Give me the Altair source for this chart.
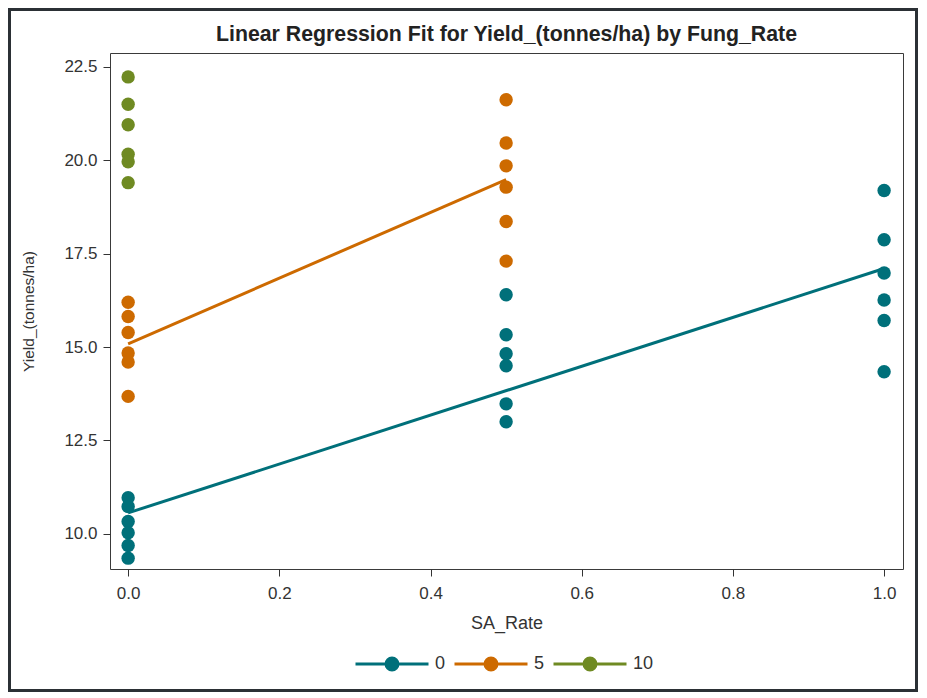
import altair as alt
import pandas as pd

# ---- data ----
fung_levels = ["0", "5", "10"]
colors = ["#00707a", "#cd6a00", "#6f8a22"]

fung0_sa00 = [10.97, 10.73, 10.33, 10.03, 9.69, 9.35]
fung0_sa05 = [16.40, 15.33, 14.82, 14.50, 13.48, 13.00]
fung0_sa10 = [19.19, 17.87, 16.98, 16.26, 15.71, 14.34]
fung5_sa00 = [16.20, 15.82, 15.39, 14.84, 14.60, 13.68]
fung5_sa05 = [21.62, 20.46, 19.85, 19.28, 18.36, 17.30]
fung10_sa00 = [22.23, 21.50, 20.95, 20.16, 19.96, 19.40]

x_ticks = [0.0, 0.2, 0.4, 0.6, 0.8, 1.0]
y_ticks = [10.0, 12.5, 15.0, 17.5, 20.0, 22.5]
title_text = "Linear Regression Fit for Yield_(tonnes/ha) by Fung_Rate"

groups = [
    ("0", 0.0, fung0_sa00),
    ("0", 0.5, fung0_sa05),
    ("0", 1.0, fung0_sa10),
    ("5", 0.0, fung5_sa00),
    ("5", 0.5, fung5_sa05),
    ("10", 0.0, fung10_sa00),
]
rows = []
for f, sa, vals in groups:
    for v in vals:
        rows.append({"Fung_Rate": f, "SA_Rate": sa, "Yield": v})
df = pd.DataFrame(rows)

W, H = 793, 516
FONT = "Liberation Sans"
TXT = "#333333"

color_scale = alt.Scale(domain=fung_levels, range=colors)
x_scale = alt.Scale(domain=[-0.024, 1.025], nice=False, zero=False)
y_scale = alt.Scale(domain=[9.06, 22.87], nice=False, zero=False)

r = 0.164
k = round(r * 0.5523, 4)
legend_path = (
    f"M-1,0H1M{r},0C{r},{k},{k},{r},0,{r}"
    f"C-{k},{r},-{r},{k},-{r},0"
    f"C-{r},-{k},-{k},-{r},0,-{r}"
    f"C{k},-{r},{r},-{k},{r},0Z"
)

x_enc = alt.X("SA_Rate:Q", scale=x_scale,
              axis=alt.Axis(values=x_ticks, format=".1f", title="SA_Rate"))
y_enc = alt.Y("Yield:Q", scale=y_scale,
              axis=alt.Axis(values=y_ticks, format=".1f", title="Yield_(tonnes/ha)"))

base = alt.Chart(df)

lines = (
    base.transform_filter(alt.FieldOneOfPredicate(field="Fung_Rate", oneOf=["0", "5"]))
    .transform_regression("SA_Rate", "Yield", groupby=["Fung_Rate"])
    .mark_line(strokeWidth=3)
    .encode(x=x_enc, y=y_enc,
            color=alt.Color("Fung_Rate:N", scale=color_scale))
)

leg = alt.Legend(
    title=None,
    orient="none",
    direction="horizontal",
    legendX=244,
    legendY=573,
    symbolType=legend_path,
)

points = base.mark_circle(size=180, opacity=1).encode(
    x=x_enc,
    y=y_enc,
    color=alt.Color("Fung_Rate:N", scale=color_scale, legend=leg),
)

deco = pd.DataFrame({"k": [0]})
frame = alt.Chart(deco).mark_rect(
    filled=False, stroke="#2b3035", strokeWidth=3
).encode(
    x=alt.value(-100.5), x2=alt.value(W + 13.5),
    y=alt.value(-43.5), y2=alt.value(H + 121.5),
)
title = alt.Chart(deco).mark_text(
    text=title_text, font=FONT, fontSize=21.3, fontWeight="bold",
    color="#222222", align="center", baseline="alphabetic",
).encode(x=alt.value(W / 2), y=alt.value(-12))

chart = (
    alt.layer(frame, title, lines, points)
    .properties(width=W, height=H, padding=0)
    .configure_view(stroke="#3a3a3a", strokeWidth=1)
    .configure_axis(
        grid=False, domain=False, tickColor="#333333", tickSize=7,
        labelFont=FONT, labelFontSize=17, labelColor=TXT,
        titleFont=FONT, titleFontWeight="normal", titleColor=TXT,
    )
    .configure_axisX(labelPadding=9, titleFontSize=18, titlePadding=13)
    .configure_axisY(labelPadding=6, titleFontSize=15.5, titlePadding=27)
    .configure_legend(
        padding=0,
        columnPadding=2,
        symbolSize=5329,
        symbolStrokeWidth=3,
        symbolOpacity=1,
        labelFont=FONT,
        labelFontSize=18,
        labelColor=TXT,
        labelOffset=5,
    )
)

chart.save("out.html", embed_options={"renderer": "svg", "actions": False})
